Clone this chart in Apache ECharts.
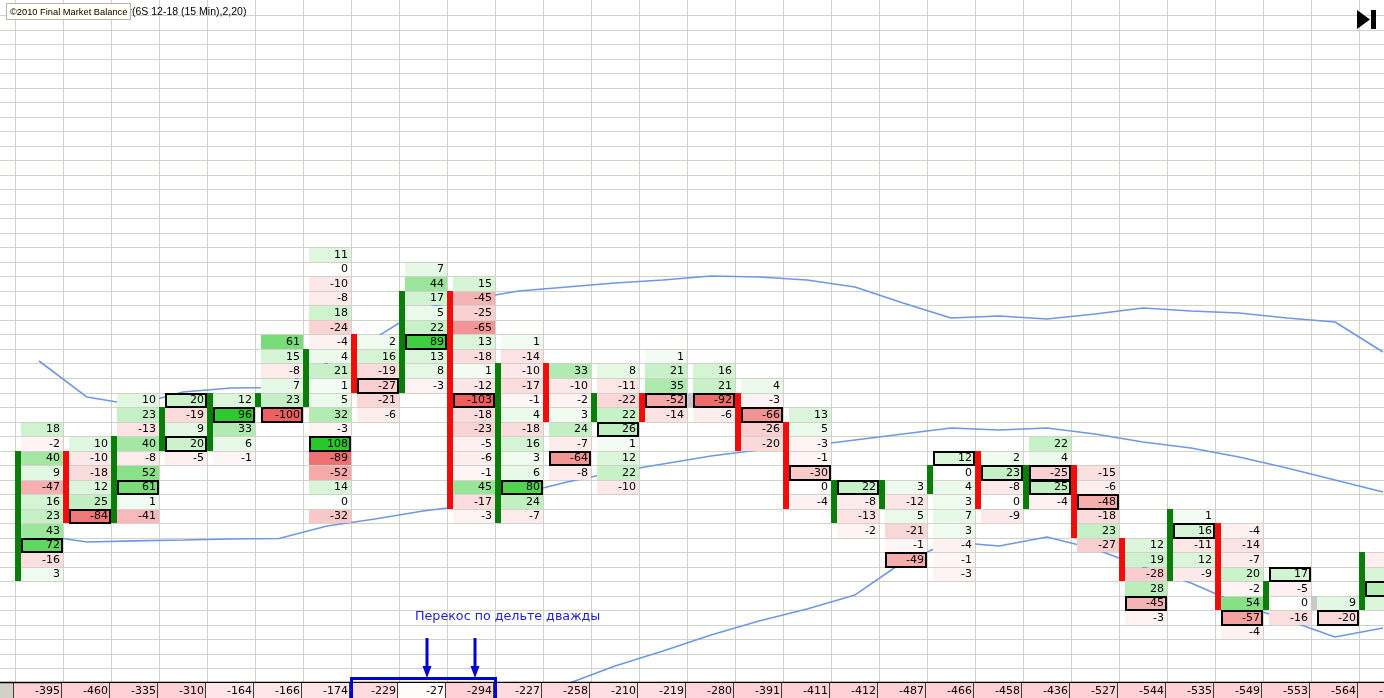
<!DOCTYPE html>
<html><head><meta charset="utf-8">
<script src="https://cdn.jsdelivr.net/npm/echarts@6/dist/echarts.min.js"></script>
<style>html,body{margin:0;padding:0;background:#fff;overflow:hidden}#c{width:1384px;height:698px}</style>
</head><body><div id="c"></div>
<script>
// ---- DATA (price rows counted from the top of the chart; one column per 15-min bar) ----
const columnNames = ['A','B','C','D','E','F','G','H','I','J','K','L','M','N','O','P','Q','R','S','T','U','V','W','X','Y','Z','AA','AB','AC'];
// first (highest) price row of each bar's ladder
const topRows = [28,29,26,26,26,22,16,22,17,18,22,24,24,23,24,25,27,32,32,30,30,29,31,36,34,35,38,40,37];
// delta per price level, top to bottom
const cellValues = [
  [18,-2,40,9,-47,16,23,43,72,-16,3],
  [10,-10,-18,12,25,-84],
  [10,23,-13,40,-8,52,61,1,-41],
  [20,-19,9,20,-5],
  [12,96,33,6,-1],
  [61,15,-8,7,23,-100],
  [11,0,-10,-8,18,-24,-4,4,21,1,5,32,-3,108,-89,-52,14,0,-32],
  [2,16,-19,-27,-21,-6],
  [7,44,17,5,22,89,13,8,-3],
  [15,-45,-25,-65,13,-18,1,-12,-103,-18,-23,-5,-6,-1,45,-17,-3],
  [1,-14,-10,-17,-1,4,-18,16,3,6,80,24,-7],
  [33,-10,-2,3,24,-7,-64,-8],
  [8,-11,-22,22,26,1,12,22,-10],
  [1,21,35,-52,-14],
  [16,21,-92,-6],
  [4,-3,-66,-26,-20],
  [13,5,-3,-1,-30,0,-4],
  [22,-8,-13,-2],
  [3,-12,5,-21,-1,-49],
  [12,0,4,3,7,3,-4,-1,-3],
  [2,23,-8,0,-9],
  [22,4,-25,25,-4],
  [-15,-6,-48,-18,23,-27],
  [12,19,-28,28,-45,-3],
  [1,16,-11,12,-9],
  [-4,-14,-7,20,-2,54,-57,-4],
  [17,-5,0,-16],
  [9,-20],
  [-5,14,31,12]
];
// rows that carry the framed (highlighted) cell
const boxedRows = [[36],[34],[32],[26,29],[27],[27],[29],[25],[22],[26],[32],[30],[28],[26],[26],[27],[31],[32],[37],[30],[31],[31,32],[33],[40],[35],[41],[38],[41],[39]];
// candle body (open/close) rows and direction: 1 up, -1 down, 0 flat
const barTop    = [30,30,29,27,26,26,23,22,19,19,24,24,26,26,26,26,28,32,32,31,30,31,31,36,34,35,39,40,37];
const barBottom = [38,34,34,29,29,26,26,25,25,33,34,27,27,27,26,29,33,34,33,32,33,33,35,38,38,40,40,40,40];
const barDir    = [1,-1,1,1,1,1,1,-1,1,-1,1,-1,1,-1,0,-1,-1,1,1,1,-1,1,-1,-1,1,-1,1,0,1];
// cumulative delta (bottom row)
const cumDelta = [-395,-460,-335,-310,-164,-166,-174,-229,-27,-294,-227,-258,-210,-219,-280,-391,-411,-412,-487,-466,-458,-436,-527,-544,-535,-549,-553,-564,-512];
// band lines (in price rows)
const upperBand  = [23.83,26.31,26.86,25.96,25.69,25.65,23.97,22.25,20.18,19.56,19.01,18.73,18.46,18.25,17.98,18.04,18.25,18.73,19.83,20.87,20.73,20.94,20.59,20.18,20.39,20.52,20.87,21.14,23.21];
const middleBand = [35.81,36.29,36.22,36.16,36.09,36.05,35.19,34.71,34.16,33.75,32.99,32.16,31.47,30.92,30.37,29.96,29.68,29.27,28.86,28.44,28.58,28.44,28.86,29.41,29.82,30.44,31.20,32.02,32.85];
const lowerBand  = [null,null,null,null,null,null,null,null,null,null,47.31,46.07,44.83,43.80,42.70,41.74,40.91,39.94,37.67,36.29,36.57,35.95,36.78,38.02,39.12,40.56,41.67,42.84,42.22];
const titleText = 'r(6S 12-18 (15 Min),2,20)';
const copyrightText = '©2010 Final Market Balance';
const noteText = 'Перекос по дельте дважды';

// ---- LAYOUT ----
const W = 1384, H = 698, COLW = 48, ROWH = 14.52, OX = 15, OY = 15;
const xMin = -OX / COLW, xMax = (W - OX) / COLW;
const yMin = -OY / ROWH, yMax = (H - OY) / ROWH;
const labelRow = 46;

function mix(c, t){
  return 'rgb(' + c.map(v => Math.round(255 + (v - 255) * t)).join(',') + ')';
}
function cellColor(v){
  if (v === 0) return '#ffffff';
  const t = 0.05 + 0.95 * Math.min(Math.abs(v) / 100, 1);
  return v > 0 ? mix([40,200,40], t) : mix([236,96,96], t);
}

const cellData = [];
cellValues.forEach((vals, c) => {
  vals.forEach((v, k) => {
    const r = topRows[c] + k;
    cellData.push([c, r, v, boxedRows[c].includes(r) ? 1 : 0]);
  });
});
const barData = barTop.map((t, c) => [c, t, barBottom[c], barDir[c]]);
const labelData = cumDelta.map((v, c) => [c, labelRow, v]);
const gridData = [];
for (let i = 0; i <= Math.ceil(xMax); i++) gridData.push([i, 0, 0]);
for (let j = 0; j <= Math.ceil(yMax); j++) gridData.push([0, j, 1]);

const chart = echarts.init(document.getElementById('c'), null, {renderer: 'canvas'});
const FONT = '11px "DejaVu Sans"';

chart.setOption({
  animation: false,
  backgroundColor: '#ffffff',
  grid: {left: 0, top: 0, right: 0, bottom: 0},
  xAxis: {type: 'value', min: xMin, max: xMax, show: false},
  yAxis: {type: 'value', min: yMin, max: yMax, inverse: true, show: false},
  series: [
    {
      type: 'custom', z: 1, silent: true, data: gridData,
      renderItem(params, api){
        const a = api.value(0), b = api.value(1), horiz = api.value(2);
        if (!horiz) {
          const p = api.coord([a, 0]);
          const x = Math.round(p[0]) + 0.5;
          return {type: 'line', shape: {x1: x, y1: 0, x2: x, y2: H}, style: {stroke: '#d4d1cc', lineWidth: 1}};
        }
        const p = api.coord([0, b]);
        const y = Math.round(p[1]) + 0.5;
        return {type: 'line', shape: {x1: 0, y1: y, x2: W, y2: y}, style: {stroke: '#d4d1cc', lineWidth: 1}};
      }
    },
    {type: 'line', z: 2, data: upperBand.map((v, i) => [i + 0.5, v]), showSymbol: false, silent: true,
      lineStyle: {color: '#6f97e6', width: 1.6}},
    {type: 'line', z: 2, data: middleBand.map((v, i) => [i + 0.5, v]), showSymbol: false, silent: true,
      lineStyle: {color: '#6f97e6', width: 1.6}},
    {type: 'line', z: 2, data: lowerBand.map((v, i) => [i + 0.5, v]), showSymbol: false, silent: true, connectNulls: false,
      lineStyle: {color: '#6f97e6', width: 1.6}},
    {
      type: 'custom', z: 3, silent: true, data: cellData,
      renderItem(params, api){
        const c = api.value(0), r = api.value(1), v = api.value(2), boxed = api.value(3);
        const p0 = api.coord([c, r]), p1 = api.coord([c + 1, r + 1]);
        const x = Math.round(p0[0]) + 6, x2 = Math.round(p1[0]);
        const y = Math.round(p0[1]) + 1, y2 = Math.round(p1[1]);
        const ch = [{type: 'rect', shape: {x: x, y: y, width: x2 - x, height: y2 - y}, style: {fill: cellColor(v)}}];
        if (boxed) ch.push({type: 'rect', shape: {x: x + 1, y: y, width: x2 - x - 2, height: y2 - y}, style: {fill: null, stroke: '#000', lineWidth: 2}});
        ch.push({type: 'text', style: {text: String(v), x: x2 - 3, y: (p0[1] + p1[1]) / 2 + 0.5, align: 'right', verticalAlign: 'middle', font: FONT, fill: '#000'}});
        return {type: 'group', children: ch};
      }
    },
    {
      type: 'custom', z: 4, silent: true, data: barData,
      renderItem(params, api){
        const c = api.value(0), t = api.value(1), b = api.value(2), d = api.value(3);
        const p0 = api.coord([c, t]), p1 = api.coord([c, b + 1]);
        const x = Math.round(p0[0]);
        const y = Math.round(p0[1]), y2 = Math.round(p1[1]);
        const col = d > 0 ? '#0a7d0a' : (d < 0 ? '#f20d0d' : '#c9c9c9');
        return {type: 'rect', shape: {x: x, y: y, width: 6, height: y2 - y}, style: {fill: col}};
      }
    },
    {
      type: 'custom', z: 5, silent: true, data: labelData,
      renderItem(params, api){
        const c = api.value(0), r = api.value(1), v = api.value(2);
        const p0 = api.coord([c, r]), p1 = api.coord([c + 1, r + 1]);
        const x = Math.round(p0[0]), x2 = Math.round(p1[0]);
        const y = Math.round(p0[1]);
        const t = Math.min(Math.abs(v) / 300, 1);
        const ch = [
          {type: 'rect', shape: {x: x - 1, y: y, width: x2 - x, height: H - y}, style: {fill: mix([255,208,214], t)}},
          {type: 'line', shape: {x1: x2 - 1.5, y1: y, x2: x2 - 1.5, y2: H}, style: {stroke: '#3a3a3a', lineWidth: 1}},
          {type: 'text', style: {text: String(v), x: x2 - 3, y: y + 8, align: 'right', verticalAlign: 'middle', font: FONT, fill: '#000'}}
        ];
        if (c === 0) {
          ch.unshift({type: 'rect', shape: {x: 0, y: y, width: x - 1, height: H - y}, style: {fill: '#d4d0c8'}});
          ch.push({type: 'line', shape: {x1: x - 1.5, y1: y, x2: x - 1.5, y2: H}, style: {stroke: '#3a3a3a', lineWidth: 1}});
          ch.push({type: 'line', shape: {x1: 0, y1: y - 0.5, x2: W, y2: y - 0.5}, style: {stroke: '#000', lineWidth: 1.5}});
        }
        return {type: 'group', children: ch};
      }
    }
  ],
  graphic: [
    {type: 'text', z: 100, x: 128.5, y: 12, style: {text: titleText, font: '10.5px "Liberation Sans"', fill: '#000', verticalAlign: 'middle'}},
    {type: 'rect', z: 101, shape: {x: 6.5, y: 3.5, width: 124, height: 16}, style: {fill: '#fffff4', stroke: '#b4b4b4', lineWidth: 1}},
    {type: 'text', z: 102, x: 10, y: 12, style: {text: copyrightText, font: '9.3px "Liberation Sans"', fill: '#000', verticalAlign: 'middle'}},
    {type: 'polygon', z: 100, shape: {points: [[1357, 10], [1357, 29], [1370, 19.5]]}, style: {fill: '#000'}},
    {type: 'rect', z: 100, shape: {x: 1371, y: 10, width: 5, height: 19}, style: {fill: '#000'}},
    {type: 'text', z: 100, x: 415, y: 617, style: {text: noteText, font: '12.7px "DejaVu Sans"', fill: '#1e1ed2', verticalAlign: 'middle'}},
    {type: 'rect', z: 100, shape: {x: 351.5, y: 678.5, width: 144, height: 30}, style: {fill: null, stroke: '#0000d4', lineWidth: 3}},
    {type: 'line', z: 100, shape: {x1: 427, y1: 638, x2: 427, y2: 668}, style: {stroke: '#0000d4', lineWidth: 3}},
    {type: 'polygon', z: 100, shape: {points: [[422.5, 666], [431.5, 666], [427, 678]]}, style: {fill: '#0000d4'}},
    {type: 'line', z: 100, shape: {x1: 475, y1: 638, x2: 475, y2: 668}, style: {stroke: '#0000d4', lineWidth: 3}},
    {type: 'polygon', z: 100, shape: {points: [[470.5, 666], [479.5, 666], [475, 678]]}, style: {fill: '#0000d4'}}
  ]
});
</script>
</body></html>
